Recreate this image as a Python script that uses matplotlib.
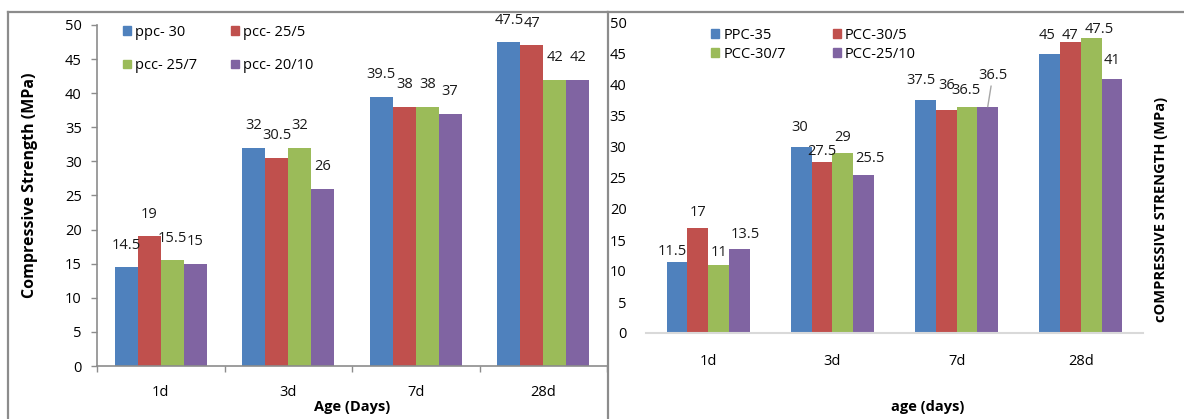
import numpy as np
import matplotlib.pyplot as plt
from matplotlib.patches import Patch
from matplotlib.lines import Line2D

plt.rcParams['font.family'] = ['Open Sans', 'DejaVu Sans']

# %% data
ages = ['1d', '3d', '7d', '28d']

# first set of mixes
mix_a = ['ppc- 30', 'pcc- 25/5', 'pcc- 25/7', 'pcc- 20/10']
ppc_30 = [14.5, 32, 39.5, 47.5]
pcc_25_5 = [19, 30.5, 38, 47]
pcc_25_7 = [15.5, 32, 38, 42]
pcc_20_10 = [15, 26, 37, 42]

# second set of mixes
mix_b = ['PPC-35', 'PCC-30/5', 'PCC-30/7', 'PCC-25/10']
ppc_35 = [11.5, 30, 37.5, 45]
pcc_30_5 = [17, 27.5, 36, 47]
pcc_30_7 = [11, 29, 36.5, 47.5]
pcc_25_10 = [13.5, 25.5, 36.5, 41]

colors = ['#4F81BD', '#C0504D', '#9BBB59', '#8064A2']

# label nudges (pixels) for the right chart, per series then per age
nudge_b = [[(-5, 10), (-2, 19), (-5, 20), (-3, 18)],
           [(0, 15), (0, 11), (0, 24), (-1, 6)],
           [(1, 12), (0, 16), (-1, 16), (8, 9)],
           [(6, 15), (6, 16), (5, 31), (0, 18)]]

W, H = 1184, 419
fig = plt.figure(figsize=(W / 100, H / 100), dpi=100)


def fx(px):
    return px / W


def fy(py):
    return 1 - py / H


# %% panel frames
frame = '#8C8C8C'
fig.add_artist(Line2D([fx(8), fx(8)], [0, fy(12)], color=frame, lw=1.6))
fig.add_artist(Line2D([fx(8), fx(607)], [fy(12), fy(12)], color=frame, lw=1.6))
fig.add_artist(Line2D([fx(608), fx(608)], [0, fy(12)], color=frame, lw=1.6))
fig.add_artist(Line2D([fx(608), 1], [fy(12), fy(12)], color=frame, lw=1.6))

# %% left chart
ax1 = fig.add_axes([fx(97), fy(366), fx(510), 341 / H])
x = np.arange(len(ages))
w = 0.18
for k, (vals, lab) in enumerate(zip([ppc_30, pcc_25_5, pcc_25_7, pcc_20_10], mix_a)):
    pos = x + (k - 1.5) * w
    ax1.bar(pos, vals, w, color=colors[k], label=lab)
    for xi, v in zip(pos, vals):
        ax1.annotate('%g' % v, (xi, v), xytext=(0, 22), textcoords='offset pixels',
                     ha='center', va='center', fontsize=10.5, color='#1a1a1a')

ax1.set_xlim(-0.5, 3.5)
ax1.set_ylim(0, 50)
ax1.set_yticks(range(0, 51, 5))
ax1.set_xticks(x)
ax1.set_xticklabels(ages)
ax1.set_xticks(np.arange(-0.5, 3.6, 1), minor=True)
ax1.tick_params(axis='x', which='major', length=0, pad=14, labelsize=10.5)
ax1.tick_params(axis='x', which='minor', length=4, width=1, color=frame, direction='out')
ax1.tick_params(axis='y', length=4, width=1, color=frame, pad=7, labelsize=10.5)
for s in ['top', 'right']:
    ax1.spines[s].set_visible(False)
for s in ['left', 'bottom']:
    ax1.spines[s].set_color(frame)
    ax1.spines[s].set_linewidth(1.2)
ax1.set_ylabel('Compressive Strength (MPa)', fontsize=11.5, fontweight='bold')
ax1.yaxis.set_label_coords((38 - 97) / 510, 0.53)
ax1.set_xlabel('Age (Days)', fontsize=10.5, fontweight='bold')
ax1.xaxis.set_label_coords(0.5, (366 - 400) / 341)

h1 = [Patch(color=c) for c in colors]
ax1.legend([h1[0], h1[2], h1[1], h1[3]], [mix_a[0], mix_a[2], mix_a[1], mix_a[3]],
           ncol=2, frameon=False, loc='upper left', bbox_to_anchor=(0.05, 1.0),
           borderaxespad=0, borderpad=0, handlelength=0.55, handleheight=0.55,
           handletextpad=0.3, labelspacing=1.25, columnspacing=2.3, fontsize=10.5)

# %% right chart
ax2 = fig.add_axes([fx(646), fy(333), fx(497), 310 / H])
w2 = 0.167
for k, (vals, lab) in enumerate(zip([ppc_35, pcc_30_5, pcc_30_7, pcc_25_10], mix_b)):
    pos = x + (k - 1.5) * w2
    ax2.bar(pos, vals, w2, color=colors[k], label=lab)
    for j, (xi, v) in enumerate(zip(pos, vals)):
        dx, dy = nudge_b[k][j]
        props = None
        if dy > 28:
            props = dict(arrowstyle='-', color='#A6A6A6', lw=1, shrinkA=0, shrinkB=0)
        ax2.annotate('%g' % v, (xi, v), xytext=(dx, dy), textcoords='offset pixels',
                     ha='center', va='center', fontsize=10.5, color='#1a1a1a',
                     arrowprops=props)

ax2.set_xlim(-0.5, 3.5)
ax2.set_ylim(0, 50)
ax2.set_yticks(range(0, 51, 5))
ax2.set_xticks(x)
ax2.set_xticklabels(ages)
ax2.tick_params(axis='x', length=0, pad=15, labelsize=10.5)
ax2.tick_params(axis='y', length=0, pad=14, labelsize=10.5)
for s in ['top', 'right', 'left']:
    ax2.spines[s].set_visible(False)
ax2.spines['bottom'].set_color('#D9D9D9')
ax2.spines['bottom'].set_linewidth(1.5)
ax2.set_ylabel('cOMPRESSIVE STRENGTH (MPa)', fontsize=10.5, fontweight='bold')
ax2.yaxis.set_label_coords((1168 - 646) / 497, 0.397)
ax2.set_xlabel('age (days)', fontsize=10.5, fontweight='bold')
ax2.xaxis.set_label_coords((928 - 646) / 497, (333 - 400) / 310)

h2 = [Patch(color=c) for c in colors]
ax2.legend([h2[0], h2[2], h2[1], h2[3]], [mix_b[0], mix_b[2], mix_b[1], mix_b[3]],
           ncol=2, frameon=False, loc='upper left', bbox_to_anchor=((711 - 646) / 497, 0.985),
           borderaxespad=0, borderpad=0, handlelength=0.55, handleheight=0.55,
           handletextpad=0.3, labelspacing=0.3, columnspacing=3.2, fontsize=10.5)

fig.savefig('out.png', dpi=100)
